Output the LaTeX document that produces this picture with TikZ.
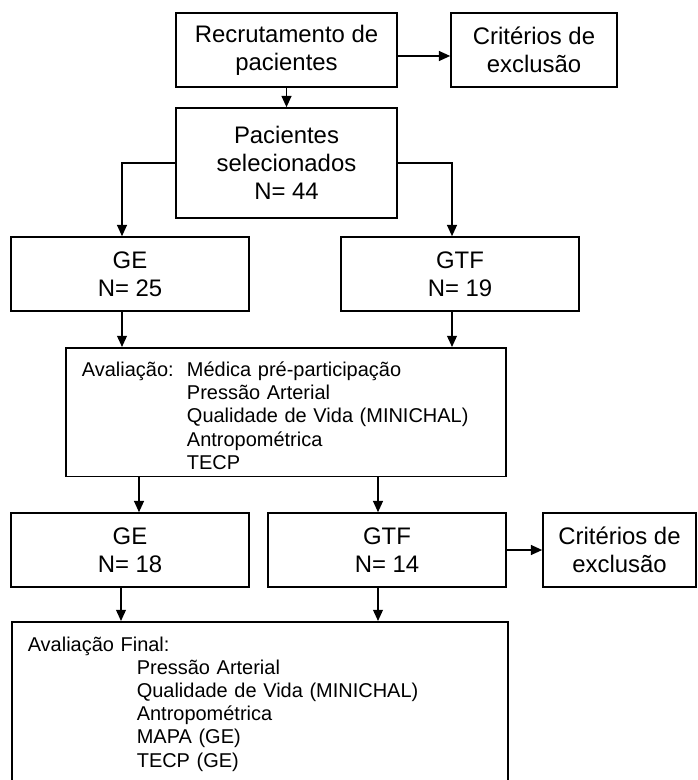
\documentclass[tikz,border=0pt]{standalone}
\usepackage{fontspec}
\setmainfont{Liberation Sans}
\usepackage{tikz}
\usetikzlibrary{shapes,arrows,arrows.meta,positioning}

\begin{document}
\begin{tikzpicture}[x=0.025cm, y=-0.025cm,
  caixa/.style={draw, line width=1.1pt, inner sep=0pt, align=center, font=\fontsize{17}{19.7}\selectfont},
  lista/.style={draw, line width=1.1pt, inner xsep=0.4cm, inner ysep=0.235cm, align=left, font=\fontsize{14.2}{16.5}\selectfont},
  seta/.style={line width=1.1pt, -{Triangle[length=8pt,width=7pt]}}]

\useasboundingbox (0,0) rectangle (697,780);
\fill[white] (0,0) rectangle (697,780);
\clip (0,0) rectangle (697,780);

\node[caixa, minimum width=5.525cm, minimum height=1.85cm] (recrut) at (286.5,50) {Recrutamento de\\pacientes};
\node[caixa, minimum width=4.15cm, minimum height=1.85cm] (excl1) at (534,50) {Critérios de\\exclusão};
\node[caixa, minimum width=5.525cm, minimum height=2.75cm] (selec) at (286.5,163) {Pacientes\\selecionados\\N= 44};

\node[caixa, minimum width=5.95cm, minimum height=1.85cm] (ge1) at (130,274) {GE\\N= 25};
\node[caixa, minimum width=5.95cm, minimum height=1.85cm] (gtf1) at (460,274) {GTF\\N= 19};

\node[lista, inner ysep=0pt, anchor=north, text width=10.2cm] (aval) at (286,347) {%
\begin{tabular}{@{}p{2.625cm}@{}l@{}}
\rule{0pt}{0.72cm}Avaliação: & Médica pré-participação\\
 & Pressão Arterial\\
 & Qualidade de Vida (MINICHAL)\\
 & Antropométrica\\
 & TECP
\end{tabular}};

\node[caixa, minimum width=5.95cm, minimum height=1.85cm] (ge2) at (130,550) {GE\\N= 18};
\node[caixa, minimum width=5.95cm, minimum height=1.85cm] (gtf2) at (387,550) {GTF\\N= 14};
\node[caixa, minimum width=3.825cm, minimum height=1.85cm] (excl2) at (619.5,550) {Critérios de\\exclusão};

\node[lista, anchor=north west, text width=11.6cm] (final) at (11,621) {%
\begin{tabular}{@{}p{2.725cm}@{}l@{}}
\multicolumn{2}{@{}l@{}}{\rule{0pt}{0.5cm}Avaliação Final:}\\
 & Pressão Arterial\\
 & Qualidade de Vida (MINICHAL)\\
 & Antropométrica\\
 & MAPA (GE)\\
 & TECP (GE)\\[0.5cm]
\end{tabular}};

\draw[seta] (recrut) -- (selec);
\draw[seta] ([yshift=-0.15cm]recrut.east) -- ([yshift=-0.15cm]excl1.west);
\draw[seta] (selec.west) -| ([xshift=-0.2cm]ge1.north);
\draw[seta] (selec.east) -| ([xshift=-0.2cm]gtf1.north);
\draw[seta] ([xshift=-0.2cm]ge1.south) -- ([xshift=-0.2cm]ge1.south |- aval.north);
\draw[seta] ([xshift=-0.2cm]gtf1.south) -- ([xshift=-0.2cm]gtf1.south |- aval.north);
\draw[seta] ([xshift=0.225cm]ge2.north |- aval.south) -- ([xshift=0.225cm]ge2.north);
\draw[seta] ([xshift=-0.225cm]gtf2.north |- aval.south) -- ([xshift=-0.225cm]gtf2.north);
\draw[seta] (gtf2) -- (excl2);
\draw[seta] ([xshift=-0.225cm]ge2.south) -- ([xshift=-0.225cm]ge2.south |- final.north);
\draw[seta] ([xshift=-0.225cm]gtf2.south) -- ([xshift=-0.225cm]gtf2.south |- final.north);

\end{tikzpicture}
\end{document}
